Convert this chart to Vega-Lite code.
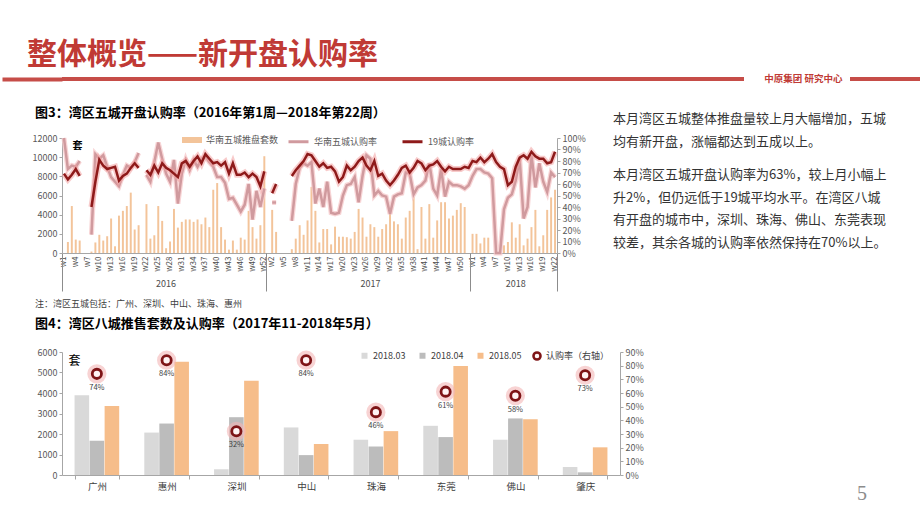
{
"$schema": "https://vega.github.io/schema/vega-lite/v6.json",
"background": "#ffffff",
"autosize": {"type": "pad"},
"padding": {"left": 0, "top": 40, "right": 0, "bottom": 0},
"config": {
  "font": "Noto Sans CJK SC",
  "view": {"stroke": null},
  "axis": {"labelFont": "Noto Sans CJK SC", "titleFont": "Noto Sans CJK SC", "labelFontSize": 9, "labelColor": "#595959", "domainColor": "#A6A6A6", "tickColor": "#A6A6A6", "grid": false, "tickSize": 3},
  "legend": {"labelFont": "Noto Sans CJK SC", "labelFontSize": 9, "labelColor": "#404040"},
  "title": {"font": "Noto Sans CJK SC"}
},
"datasets": {
  "org": [{"org": "中原集团   研究中心"}],
  "txt": [
    {"p": 1, "t": "本月湾区五城整体推盘量较上月大幅增加，五城\n均有新开盘，涨幅都达到五成以上。"},
    {"p": 2, "t": "本月湾区五城开盘认购率为63%，较上月小幅上\n升2%，但仍远低于19城平均水平。在湾区八城\n有开盘的城市中，深圳、珠海、佛山、东莞表现\n较差，其余各城的认购率依然保持在70%以上。"}
  ],
  "pg": [{"p": "5"}],
  "c4": [
    {"c": "广州", "m": "2018.03", "v": 3890}, {"c": "广州", "m": "2018.04", "v": 1670}, {"c": "广州", "m": "2018.05", "v": 3370},
    {"c": "惠州", "m": "2018.03", "v": 2070}, {"c": "惠州", "m": "2018.04", "v": 2510}, {"c": "惠州", "m": "2018.05", "v": 5530},
    {"c": "深圳", "m": "2018.03", "v": 280}, {"c": "深圳", "m": "2018.04", "v": 2820}, {"c": "深圳", "m": "2018.05", "v": 4600},
    {"c": "中山", "m": "2018.03", "v": 2320}, {"c": "中山", "m": "2018.04", "v": 970}, {"c": "中山", "m": "2018.05", "v": 1510},
    {"c": "珠海", "m": "2018.03", "v": 1720}, {"c": "珠海", "m": "2018.04", "v": 1390}, {"c": "珠海", "m": "2018.05", "v": 2140},
    {"c": "东莞", "m": "2018.03", "v": 2400}, {"c": "东莞", "m": "2018.04", "v": 1850}, {"c": "东莞", "m": "2018.05", "v": 5320},
    {"c": "佛山", "m": "2018.03", "v": 1720}, {"c": "佛山", "m": "2018.04", "v": 2760}, {"c": "佛山", "m": "2018.05", "v": 2720},
    {"c": "肇庆", "m": "2018.03", "v": 390}, {"c": "肇庆", "m": "2018.04", "v": 130}, {"c": "肇庆", "m": "2018.05", "v": 1350}
  ],
  "c4r": [
    {"c": "广州", "r": 0.74}, {"c": "惠州", "r": 0.84}, {"c": "深圳", "r": 0.32}, {"c": "中山", "r": 0.84},
    {"c": "珠海", "r": 0.46}, {"c": "东莞", "r": 0.61}, {"c": "佛山", "r": 0.58}, {"c": "肇庆", "r": 0.73}
  ],
  "c3": [
    {"k":"2016|w1","n":0,"a":1.0,"b":0.69},
    {"k":"2016|w2","n":1150,"a":0.73,"b":0.64},
    {"k":"2016|w3","n":4900,"a":0.76,"b":0.68},
    {"k":"2016|w4","n":1400,"a":0.75,"b":0.73},
    {"k":"2016|w5","n":1300,"a":0.80,"b":0.67},
    {"k":"2016|w6","n":0,"a":null,"b":null},
    {"k":"2016|w7","n":0,"a":null,"b":null},
    {"k":"2016|w8","n":150,"a":0.16,"b":0.40},
    {"k":"2016|w9","n":1100,"a":0.86,"b":0.62},
    {"k":"2016|w10","n":1900,"a":0.82,"b":0.81},
    {"k":"2016|w11","n":1300,"a":0.85,"b":0.76},
    {"k":"2016|w12","n":1750,"a":0.75,"b":0.73},
    {"k":"2016|w13","n":3600,"a":0.66,"b":0.74},
    {"k":"2016|w14","n":700,"a":0.62,"b":0.75},
    {"k":"2016|w15","n":3900,"a":0.58,"b":0.63},
    {"k":"2016|w16","n":4400,"a":0.68,"b":0.67},
    {"k":"2016|w17","n":4900,"a":0.76,"b":0.69},
    {"k":"2016|w18","n":6300,"a":0.74,"b":0.74},
    {"k":"2016|w19","n":2450,"a":0.79,"b":0.78},
    {"k":"2016|w20","n":2900,"a":0.87,"b":0.74},
    {"k":"2016|w21","n":0,"a":null,"b":null},
    {"k":"2016|w22","n":5100,"a":0.68,"b":0.72},
    {"k":"2016|w23","n":1500,"a":0.62,"b":0.68},
    {"k":"2016|w24","n":1850,"a":0.79,"b":0.76},
    {"k":"2016|w25","n":4900,"a":0.96,"b":0.70},
    {"k":"2016|w26","n":3350,"a":0.82,"b":0.78},
    {"k":"2016|w27","n":500,"a":0.69,"b":0.74},
    {"k":"2016|w28","n":1200,"a":0.62,"b":0.72},
    {"k":"2016|w29","n":4600,"a":0.81,"b":0.69},
    {"k":"2016|w30","n":2650,"a":0.43,"b":0.66},
    {"k":"2016|w31","n":3250,"a":0.69,"b":0.78},
    {"k":"2016|w32","n":3500,"a":0.81,"b":0.80},
    {"k":"2016|w33","n":3500,"a":0.72,"b":0.75},
    {"k":"2016|w34","n":3250,"a":0.81,"b":0.80},
    {"k":"2016|w35","n":3500,"a":0.75,"b":0.84},
    {"k":"2016|w36","n":3000,"a":0.82,"b":0.78},
    {"k":"2016|w37","n":3700,"a":0.84,"b":0.86},
    {"k":"2016|w38","n":2700,"a":0.79,"b":0.82},
    {"k":"2016|w39","n":6600,"a":0.75,"b":0.78},
    {"k":"2016|w40","n":7300,"a":0.66,"b":0.79},
    {"k":"2016|w41","n":2700,"a":0.66,"b":0.76},
    {"k":"2016|w42","n":1400,"a":0.61,"b":0.79},
    {"k":"2016|w43","n":350,"a":0.47,"b":0.69},
    {"k":"2016|w44","n":1300,"a":0.48,"b":0.78},
    {"k":"2016|w45","n":350,"a":0.42,"b":0.68},
    {"k":"2016|w46","n":1600,"a":0.36,"b":0.68},
    {"k":"2016|w47","n":1400,"a":0.42,"b":0.70},
    {"k":"2016|w48","n":4400,"a":0.60,"b":0.66},
    {"k":"2016|w49","n":2700,"a":0.29,"b":0.69},
    {"k":"2016|w50","n":1500,"a":0.54,"b":0.66},
    {"k":"2016|w51","n":2900,"a":0.40,"b":0.58},
    {"k":"2016|w52","n":10100,"a":0.56,"b":0.71},
    {"k":"2017|w1","n":0,"a":null,"b":null},
    {"k":"2017|w2","n":4500,"a":0.44,"b":0.52},
    {"k":"2017|w3","n":2200,"a":0.44,"b":0.60},
    {"k":"2017|w4","n":0,"a":null,"b":null},
    {"k":"2017|w5","n":0,"a":null,"b":null},
    {"k":"2017|w6","n":0,"a":null,"b":null},
    {"k":"2017|w7","n":400,"a":0.28,"b":0.67},
    {"k":"2017|w8","n":1500,"a":0.60,"b":0.72},
    {"k":"2017|w9","n":2900,"a":0.74,"b":0.76},
    {"k":"2017|w10","n":1900,"a":0.78,"b":0.80},
    {"k":"2017|w11","n":3400,"a":0.76,"b":0.86},
    {"k":"2017|w12","n":6900,"a":0.79,"b":0.85},
    {"k":"2017|w13","n":4400,"a":0.43,"b":0.80},
    {"k":"2017|w14","n":1100,"a":0.56,"b":0.75},
    {"k":"2017|w15","n":2500,"a":0.40,"b":0.78},
    {"k":"2017|w16","n":2500,"a":0.62,"b":0.74},
    {"k":"2017|w17","n":900,"a":0.35,"b":0.75},
    {"k":"2017|w18","n":2750,"a":0.34,"b":0.71},
    {"k":"2017|w19","n":1700,"a":0.35,"b":0.62},
    {"k":"2017|w20","n":1700,"a":0.50,"b":0.66},
    {"k":"2017|w21","n":1650,"a":0.59,"b":0.76},
    {"k":"2017|w22","n":1500,"a":0.60,"b":0.72},
    {"k":"2017|w23","n":2200,"a":0.66,"b":0.75},
    {"k":"2017|w24","n":4600,"a":0.44,"b":0.80},
    {"k":"2017|w25","n":3700,"a":0.67,"b":0.83},
    {"k":"2017|w26","n":1700,"a":0.85,"b":0.76},
    {"k":"2017|w27","n":3000,"a":0.82,"b":0.72},
    {"k":"2017|w28","n":2700,"a":0.50,"b":0.80},
    {"k":"2017|w29","n":1700,"a":0.54,"b":0.67},
    {"k":"2017|w30","n":2500,"a":0.50,"b":0.69},
    {"k":"2017|w31","n":3000,"a":0.49,"b":0.63},
    {"k":"2017|w32","n":4300,"a":0.34,"b":0.59},
    {"k":"2017|w33","n":3300,"a":0.49,"b":0.63},
    {"k":"2017|w34","n":3000,"a":0.51,"b":0.68},
    {"k":"2017|w35","n":1500,"a":0.52,"b":0.74},
    {"k":"2017|w36","n":3700,"a":0.70,"b":0.76},
    {"k":"2017|w37","n":4400,"a":0.69,"b":0.70},
    {"k":"2017|w38","n":5900,"a":0.51,"b":0.74},
    {"k":"2017|w39","n":400,"a":0.57,"b":0.80},
    {"k":"2017|w40","n":4800,"a":0.59,"b":0.78},
    {"k":"2017|w41","n":1500,"a":0.63,"b":0.72},
    {"k":"2017|w42","n":5100,"a":0.78,"b":0.76},
    {"k":"2017|w43","n":1600,"a":0.56,"b":0.77},
    {"k":"2017|w44","n":3400,"a":0.50,"b":0.80},
    {"k":"2017|w45","n":5300,"a":0.73,"b":0.75},
    {"k":"2017|w46","n":5300,"a":0.49,"b":0.71},
    {"k":"2017|w47","n":3600,"a":0.62,"b":0.75},
    {"k":"2017|w48","n":3900,"a":0.59,"b":0.73},
    {"k":"2017|w49","n":4500,"a":0.59,"b":0.73},
    {"k":"2017|w50","n":5200,"a":0.58,"b":0.73},
    {"k":"2017|w51","n":4800,"a":0.56,"b":0.75},
    {"k":"2017|w52","n":0,"a":0.59,"b":0.74},
    {"k":"2018|w1","n":2000,"a":0.67,"b":0.80},
    {"k":"2018|w2","n":2000,"a":0.73,"b":0.79},
    {"k":"2018|w3","n":1000,"a":0.73,"b":0.83},
    {"k":"2018|w4","n":1600,"a":0.70,"b":0.79},
    {"k":"2018|w5","n":1600,"a":0.69,"b":0.82},
    {"k":"2018|w6","n":0,"a":0.65,"b":0.86},
    {"k":"2018|w7","n":0,"a":0.0,"b":0.79},
    {"k":"2018|w8","n":0,"a":0.0,"b":0.75},
    {"k":"2018|w9","n":800,"a":0.38,"b":0.73},
    {"k":"2018|w10","n":1150,"a":0.48,"b":0.59},
    {"k":"2018|w11","n":3200,"a":0.51,"b":0.62},
    {"k":"2018|w12","n":1600,"a":0.63,"b":0.75},
    {"k":"2018|w13","n":3000,"a":0.82,"b":0.83},
    {"k":"2018|w14","n":800,"a":0.30,"b":0.85},
    {"k":"2018|w15","n":1500,"a":0.40,"b":0.82},
    {"k":"2018|w16","n":2700,"a":0.85,"b":0.88},
    {"k":"2018|w17","n":4500,"a":0.57,"b":0.84},
    {"k":"2018|w18","n":700,"a":0.78,"b":0.82},
    {"k":"2018|w19","n":1850,"a":0.62,"b":0.82},
    {"k":"2018|w20","n":4500,"a":0.53,"b":0.78},
    {"k":"2018|w21","n":5800,"a":0.70,"b":0.79},
    {"k":"2018|w22","n":6600,"a":0.66,"b":0.88}
  ]
},
"columns": 2,
"bounds": "flush",
"align": "each",
"spacing": {"row": 57, "column": 106},
"resolve": {"scale": {"fill": "independent", "stroke": "independent"}, "legend": {"fill": "independent", "stroke": "independent"}},
"concat": [
  {
    "width": 682, "height": 4,
    "data": {"name": "org"},
    "title": {"text": "整体概览——新开盘认购率", "anchor": "start", "frame": "group", "dx": -35, "dy": 31, "offset": 8, "fontSize": 30, "fontWeight": "bold", "color": "#C03A35", "baseline": "bottom"},
    "mark": {"type": "rule", "strokeWidth": 4, "color": "#C64D48"},
    "encoding": {"y": {"field": "org", "type": "nominal", "axis": {"labels": false, "domain": false, "ticks": true, "tickSize": 60, "tickWidth": 4, "tickColor": "#C64D48", "title": null}}}
  },
  {
    "width": 72, "height": 4,
    "data": {"name": "org"},
    "mark": {"type": "rule", "strokeWidth": 4, "color": "#C64D48"},
    "encoding": {"y": {"field": "org", "type": "nominal", "axis": {"labels": true, "domain": false, "ticks": false, "labelPadding": 8, "labelColor": "#C03A35", "labelFontSize": 9.5, "labelFontWeight": "bold", "title": null}}}
  },
  {
    "width": 495, "height": 115,
    "data": {"name": "c3"},
    "title": {"text": "图3：湾区五城开盘认购率（2016年第1周—2018年第22周）", "anchor": "start", "frame": "group", "dx": -27, "dy": 15, "offset": 10, "fontSize": 13, "fontWeight": "bold", "color": "#000000", "baseline": "bottom"},
    "layer": [
      {
        "mark": {"type": "bar", "width": {"band": 0.5}},
        "encoding": {
          "x": {"field": "k", "type": "ordinal", "sort": null, "scale": {"paddingInner": 0, "paddingOuter": 0},
                "axis": {"orient": "bottom", "title": null, "values": ["2016|w1","2016|w4","2016|w7","2016|w10","2016|w13","2016|w16","2016|w19","2016|w22","2016|w25","2016|w28","2016|w31","2016|w34","2016|w37","2016|w40","2016|w43","2016|w46","2016|w49","2016|w52","2017|w2","2017|w5","2017|w8","2017|w11","2017|w14","2017|w17","2017|w20","2017|w23","2017|w26","2017|w29","2017|w32","2017|w35","2017|w38","2017|w41","2017|w44","2017|w47","2017|w50","2018|w1","2018|w4","2018|w7","2018|w10","2018|w13","2018|w16","2018|w19","2018|w22"],
                         "labelExpr": "split(datum.value, '|')[1]", "labelAngle": 270, "labelFontSize": 8, "labelPadding": 3, "labelColor": "#4D4D4D", "ticks": false, "labelOverlap": false}},
          "y": {"field": "n", "type": "quantitative", "scale": {"domain": [0, 12000]},
                "axis": {"orient": "left", "values": [0, 2000, 4000, 6000, 8000, 10000, 12000], "format": "d", "title": "套", "titleAngle": 0, "titleX": 10, "titleY": 7, "titleAlign": "left", "titleBaseline": "middle", "titleFontSize": 10, "titleFontWeight": "bold", "titleColor": "#000000"}},
          "fill": {"datum": "华南五城推盘套数", "type": "nominal", "scale": {"range": ["#F3C49A"]},
                   "legend": {"orient": "none", "legendX": 120, "legendY": -8, "title": null, "symbolType": "M-1,-0.3H1V0.3H-1Z", "symbolSize": 400, "symbolStrokeWidth": 0, "labelFontSize": 9, "labelColor": "#595959"}}
        }
      },
      {
        "mark": {"type": "line", "stroke": "#F6CACC", "strokeWidth": 5, "opacity": 0.8, "invalid": "break-paths-show-domains"},
        "encoding": {
          "x": {"field": "k", "type": "ordinal", "sort": null,
                "axis": {"orient": "bottom", "title": null, "values": ["2016|w27", "2017|w27", "2018|w12"], "bandPosition": 0, "labelExpr": "split(datum.value, '|')[0]", "labelAngle": 0, "labelFontSize": 9, "labelColor": "#4D4D4D", "ticks": false, "domain": false, "offset": 26, "labelPadding": 0, "labelBaseline": "top", "labelOverlap": false}},
          "y": {"field": "a", "type": "quantitative", "scale": {"domain": [0, 1]}, "axis": null}
        }
      },
      {
        "mark": {"type": "line", "strokeWidth": 2.5, "invalid": "break-paths-show-domains"},
        "encoding": {
          "x": {"field": "k", "type": "ordinal", "sort": null,
                "axis": {"orient": "bottom", "title": null, "values": ["2016|w1", "2017|w1", "2018|w1"], "bandPosition": 0, "labels": false, "domain": false, "tickSize": 38, "tickColor": "#8C8C8C"}},
          "y": {"field": "a", "type": "quantitative", "scale": {"domain": [0, 1]},
                "axis": {"orient": "right", "title": null, "values": [0, 0.1, 0.2, 0.3, 0.4, 0.5, 0.6, 0.7, 0.8, 0.9, 1], "format": ".0%"}},
          "stroke": {"datum": "华南五城认购率", "type": "nominal", "scale": {"domain": ["华南五城认购率", "19城认购率"], "range": ["#D09A9E", "#8E1A1A"]},
                     "legend": {"orient": "none", "legendX": 225, "legendY": -8, "direction": "horizontal", "title": null, "symbolType": "stroke", "symbolSize": 400, "symbolStrokeWidth": 3, "columnPadding": 18, "labelFontSize": 9, "labelColor": "#595959"}}
        }
      },
      {
        "mark": {"type": "line", "stroke": "#F2A0A0", "strokeWidth": 6, "opacity": 0.55, "invalid": "break-paths-show-domains"},
        "encoding": {
          "x": {"field": "k", "type": "ordinal", "sort": null,
                "axis": {"orient": "bottom", "title": null, "values": ["2018|w22"], "bandPosition": 1, "labels": false, "domain": false, "tickSize": 38, "tickColor": "#8C8C8C"}},
          "y": {"field": "b", "type": "quantitative", "scale": {"domain": [0, 1]}, "axis": null}
        }
      },
      {
        "mark": {"type": "line", "strokeWidth": 2.5, "invalid": "break-paths-show-domains"},
        "encoding": {
          "x": {"field": "k", "type": "ordinal", "sort": null, "axis": null},
          "y": {"field": "b", "type": "quantitative", "scale": {"domain": [0, 1]}, "axis": null},
          "stroke": {"datum": "19城认购率", "type": "nominal"}
        }
      }
    ],
    "resolve": {"scale": {"y": "independent"}, "axis": {"x": "independent", "y": "independent"}}
  },
  {
    "width": 2, "height": 157,
    "data": {"name": "txt"},
    "mark": {"type": "text", "align": "left", "baseline": "top", "fontSize": 13, "lineHeight": 22.5, "lineBreak": "\n", "dx": -238, "dy": -25, "color": "#333333", "font": "Noto Sans CJK SC"},
    "encoding": {
      "y": {"field": "p", "type": "ordinal", "scale": {"type": "point", "range": [0, 56], "padding": 0}, "axis": null},
      "text": {"field": "t"}
    }
  },
  {
    "width": 558, "height": 123,
    "title": {"text": "注：湾区五城包括：广州、深圳、中山、珠海、惠州", "subtitle": "图4：湾区八城推售套数及认购率（2017年11-2018年5月）", "anchor": "start", "frame": "group", "dx": -27, "offset": 14, "fontSize": 9, "fontWeight": "normal", "color": "#404040", "subtitleFont": "Noto Sans CJK SC", "subtitleFontSize": 13, "subtitleFontWeight": "bold", "subtitleColor": "#000000", "subtitlePadding": 9},
    "layer": [
      {
        "data": {"name": "c4"},
        "mark": {"type": "bar"},
        "encoding": {
          "x": {"field": "c", "type": "nominal", "sort": ["广州", "惠州", "深圳", "中山", "珠海", "东莞", "佛山", "肇庆"], "scale": {"paddingInner": 0.36, "paddingOuter": 0.18},
                "axis": {"title": null, "labelAngle": 0, "labelFontSize": 9.5, "labelColor": "#404040", "labelPadding": 2, "tickBand": "extent", "tickSize": 4}},
          "xOffset": {"field": "m", "type": "nominal", "sort": ["2018.03", "2018.04", "2018.05"], "scale": {"paddingInner": 0.03}},
          "y": {"field": "v", "type": "quantitative", "scale": {"domain": [0, 6000]},
                "axis": {"orient": "left", "values": [0, 1000, 2000, 3000, 4000, 5000, 6000], "format": "d", "title": "套", "titleAngle": 0, "titleX": 6, "titleY": 8, "titleAlign": "left", "titleBaseline": "middle", "titleFontSize": 12, "titleFontWeight": "normal", "titleColor": "#000000"}},
          "fill": {"field": "m", "type": "nominal", "scale": {"domain": ["2018.03", "2018.04", "2018.05"], "range": ["#D9D9D9", "#BCBCBC", "#F6BD8A"]},
                   "legend": {"orient": "none", "legendX": 298, "legendY": -1, "direction": "horizontal", "title": null, "symbolType": "square", "symbolSize": 36, "symbolStrokeWidth": 0, "columnPadding": 12, "labelFontSize": 9, "labelColor": "#404040"}}
        }
      },
      {
        "data": {"name": "c4r"},
        "mark": {"type": "point", "shape": "circle", "size": 230, "filled": false, "stroke": "#F4B6B6", "strokeWidth": 4, "opacity": 0.6},
        "encoding": {
          "x": {"field": "c", "type": "nominal", "sort": ["广州", "惠州", "深圳", "中山", "珠海", "东莞", "佛山", "肇庆"]},
          "y": {"field": "r", "type": "quantitative", "scale": {"domain": [0, 0.9]}, "axis": null}
        }
      },
      {
        "data": {"name": "c4r"},
        "mark": {"type": "point", "shape": "circle", "size": 85, "filled": false, "fill": "#FFF3F3", "strokeWidth": 2.8, "opacity": 1},
        "encoding": {
          "x": {"field": "c", "type": "nominal", "sort": ["广州", "惠州", "深圳", "中山", "珠海", "东莞", "佛山", "肇庆"]},
          "y": {"field": "r", "type": "quantitative", "scale": {"domain": [0, 0.9]},
                "axis": {"orient": "right", "title": null, "values": [0, 0.1, 0.2, 0.3, 0.4, 0.5, 0.6, 0.7, 0.8, 0.9], "format": ".0%"}},
          "stroke": {"datum": "认购率（右轴）", "type": "nominal", "scale": {"range": ["#7E1416"]},
                     "legend": {"orient": "none", "legendX": 470, "legendY": -1, "title": null, "symbolType": "circle", "symbolSize": 50, "symbolStrokeWidth": 2.5, "symbolFillColor": "#ffffff", "labelFontSize": 9, "labelColor": "#404040"}}
        }
      },
      {
        "data": {"name": "c4r"},
        "mark": {"type": "text", "dy": 14, "fontSize": 7.5, "color": "#404040"},
        "encoding": {
          "x": {"field": "c", "type": "nominal", "sort": ["广州", "惠州", "深圳", "中山", "珠海", "东莞", "佛山", "肇庆"]},
          "y": {"field": "r", "type": "quantitative", "scale": {"domain": [0, 0.9]}, "axis": null},
          "text": {"field": "r", "type": "quantitative", "format": ".0%"}
        }
      }
    ],
    "resolve": {"scale": {"y": "independent"}}
  },
  {
    "width": 24, "height": 123,
    "data": {"name": "pg"},
    "mark": {"type": "text", "fontSize": 20, "font": "Liberation Serif", "color": "#8C8C8C", "baseline": "middle", "dy": 80},
    "encoding": {"text": {"field": "p"}}
  }
]
}
